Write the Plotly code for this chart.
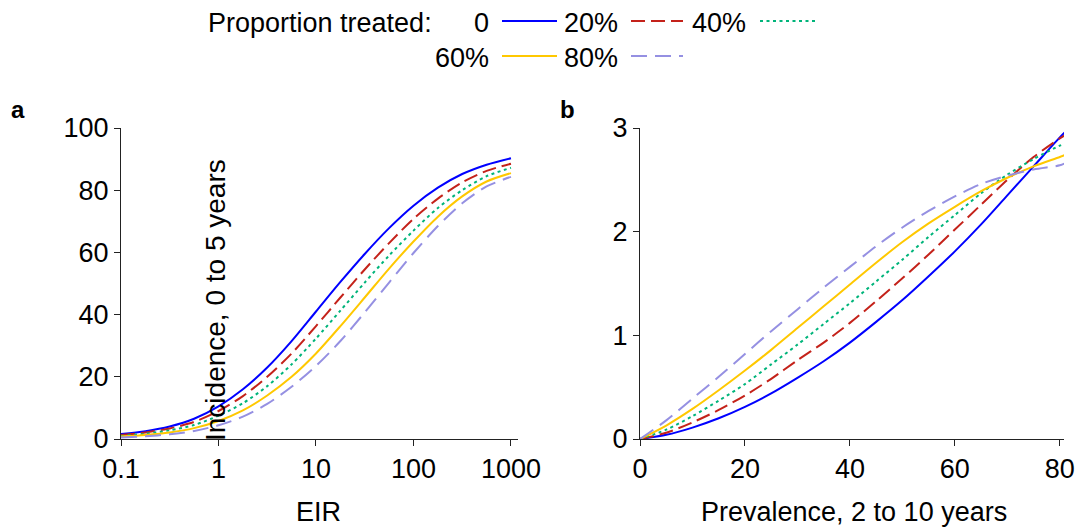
import plotly.graph_objects as go

# ---------------- data ----------------
eir = [0.1, 0.178, 0.316, 0.562, 1, 1.78, 3.16, 5.62, 10, 17.8, 31.6, 56.2, 100, 178, 316, 562, 1000]
inc_0 = [1.6, 2.5, 4.0, 6.5, 10.5, 16.0, 23.0, 31.5, 41.0, 50.5, 59.5, 67.8, 75.0, 80.8, 85.2, 88.2, 90.3]
inc_20 = [1.3, 2.1, 3.4, 5.5, 9.0, 13.8, 20.0, 27.5, 36.3, 45.5, 54.5, 63.0, 70.8, 77.3, 82.5, 86.2, 88.5]
inc_40 = [1.0, 1.7, 2.8, 4.5, 7.5, 11.5, 17.0, 24.0, 32.3, 41.3, 50.3, 59.0, 67.0, 74.3, 80.0, 84.5, 87.2]
inc_60 = [0.8, 1.3, 2.1, 3.5, 5.8, 9.2, 14.0, 20.0, 27.5, 36.3, 45.5, 54.8, 63.5, 71.5, 78.0, 82.8, 85.5]
inc_80 = [0.5, 0.9, 1.5, 2.6, 4.4, 7.2, 11.3, 16.8, 23.5, 31.5, 40.7, 50.3, 59.8, 68.5, 75.8, 81.2, 84.3]

prev = [0, 5, 10, 15, 20, 25, 30, 35, 40, 45, 50, 55, 60, 65, 70, 75, 80, 81]
b_0 = [0, 0.04, 0.11, 0.20, 0.31, 0.44, 0.59, 0.75, 0.93, 1.13, 1.34, 1.57, 1.81, 2.07, 2.35, 2.63, 2.91, 2.96]
b_20 = [0, 0.06, 0.16, 0.28, 0.42, 0.58, 0.76, 0.93, 1.12, 1.33, 1.55, 1.78, 2.02, 2.26, 2.50, 2.72, 2.90, 2.93]
b_40 = [0, 0.09, 0.22, 0.37, 0.53, 0.72, 0.91, 1.11, 1.31, 1.52, 1.73, 1.95, 2.16, 2.37, 2.55, 2.70, 2.83, 2.85]
b_60 = [0, 0.13, 0.29, 0.47, 0.66, 0.86, 1.07, 1.28, 1.49, 1.70, 1.90, 2.08, 2.24, 2.39, 2.52, 2.63, 2.72, 2.74]
b_80 = [0, 0.18, 0.39, 0.60, 0.82, 1.04, 1.25, 1.46, 1.66, 1.86, 2.04, 2.20, 2.34, 2.46, 2.54, 2.60, 2.64, 2.66]

series_names = ["0", "20%", "40%", "60%", "80%"]
colors = ["#0000ff", "#c4221a", "#00b47a", "#ffc800", "#9590e2"]
dashes = ["solid", "14px,6px", "3px,3.5px", "solid", "16px,8px"]

xa_ticks = [0.1, 1, 10, 100, 1000]
xa_ticklabels = ["0.1", "1", "10", "100", "1000"]
ya_ticks = [0, 20, 40, 60, 80, 100]
xb_ticks = [0, 20, 40, 60, 80]
yb_ticks = [0, 1, 2, 3]

FONT = "Liberation Sans, Arial, sans-serif"
FS = 27
AX = "#222222"

fig = go.Figure()
a_series = [inc_0, inc_20, inc_40, inc_60, inc_80]
b_series = [b_0, b_20, b_40, b_60, b_80]
for name, col, dsh, ya, yb in zip(series_names, colors, dashes, a_series, b_series):
    fig.add_trace(go.Scatter(x=eir, y=ya, mode="lines", name=name, showlegend=False,
                             line=dict(color=col, width=2, dash=dsh, shape="spline", smoothing=0.8),
                             xaxis="x", yaxis="y"))
    fig.add_trace(go.Scatter(x=prev, y=yb, mode="lines", name=name, showlegend=False,
                             line=dict(color=col, width=2, dash=dsh, shape="spline", smoothing=0.8),
                             xaxis="x2", yaxis="y2"))

W, H = 1081, 530
def px(x):
    return x / W
def py(y):
    return 1 - y / H

axis_common = dict(showline=True, linecolor=AX, linewidth=1, ticks="outside", ticklen=6,
                   tickcolor=AX, tickwidth=1, showgrid=False, zeroline=False, automargin=False,
                   tickfont=dict(family=FONT, size=FS, color="black"))

fig.update_layout(
    width=W, height=H, margin=dict(l=0, r=0, t=0, b=0, autoexpand=False),
    paper_bgcolor="white", plot_bgcolor="white",
    font=dict(family=FONT, size=FS, color="black"),
    xaxis=dict(domain=[px(121), px(518)], type="log", range=[-1, 3.072],
               tickvals=xa_ticks, ticktext=xa_ticklabels, anchor="y", **axis_common),
    yaxis=dict(domain=[py(439), py(128)], range=[0, 100], tickvals=ya_ticks,
               anchor="x", **axis_common),
    xaxis2=dict(domain=[px(640), px(1064)], range=[0, 80.8], tickvals=xb_ticks,
                anchor="y2", **axis_common),
    yaxis2=dict(domain=[py(439), py(128)], range=[0, 3], tickvals=yb_ticks,
                anchor="x2", **axis_common),
)

ann = []
def text(x, y, s, xanchor="center", size=FS, angle=0, bold=False):
    ann.append(dict(x=px(x), y=py(y), xref="paper", yref="paper", text=("<b>%s</b>" % s) if bold else s,
                    showarrow=False, xanchor=xanchor, yanchor="middle", textangle=angle,
                    font=dict(family=FONT, size=size, color="black")))

text(318, 512, "EIR")
text(854, 512, "Prevalence, 2 to 10 years")
text(215, 300, "Incidence, 0 to 5 years", angle=-90, size=28)
text(18, 110, "a", bold=True, size=24)
text(567, 110, "b", bold=True, size=24)

# legend
text(434, 23, "Proportion treated:", xanchor="right")
leg_rows = [23, 23, 23, 58, 58]
leg_text_right = [491, 620, 748, 491, 620]
leg_line_x = [(502, 557), (631, 683), (760, 817), (502, 557), (631, 683)]
shapes = []
for i, name in enumerate(series_names):
    text(leg_text_right[i], leg_rows[i], name, xanchor="right")
    x0, x1 = leg_line_x[i]
    shapes.append(dict(type="line", xref="paper", yref="paper", x0=px(x0), x1=px(x1),
                       y0=py(leg_rows[i] - 2), y1=py(leg_rows[i] - 2),
                       line=dict(color=colors[i], width=2, dash=dashes[i])))

fig.update_layout(annotations=ann, shapes=shapes)
fig.write_html("out.html")
